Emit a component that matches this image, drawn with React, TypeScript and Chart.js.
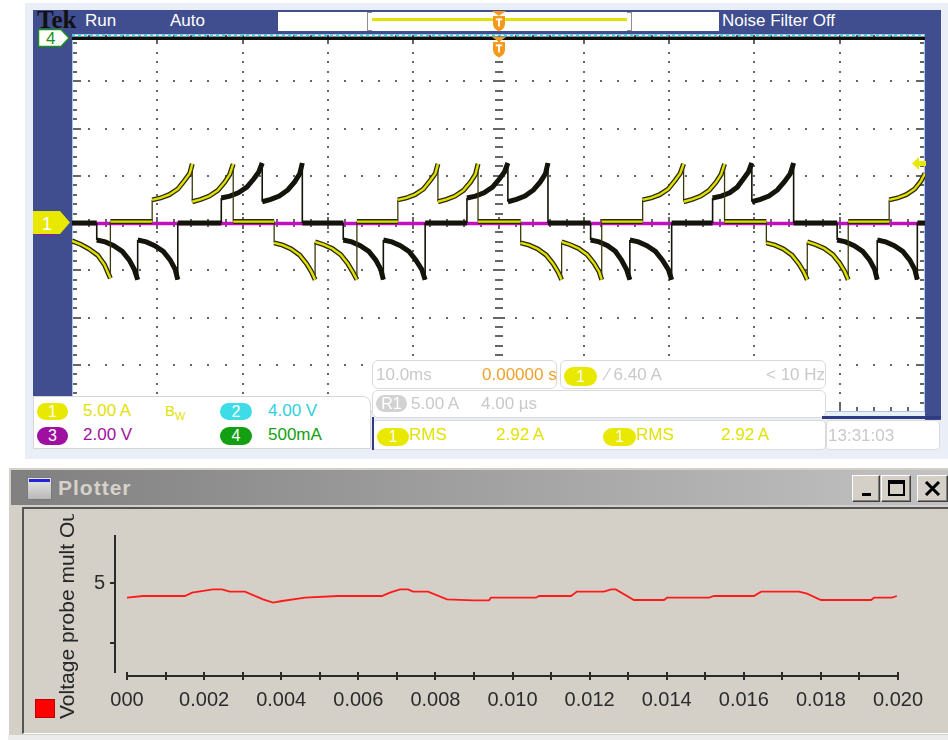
import React, { useEffect, useRef } from "react";
import { Chart, registerables } from "chart.js";

Chart.register(...registerables);

const FONT = "'Liberation Sans', Arial, Helvetica, sans-serif";
const BLUE = "#404D8F";

// ---------------- Oscilloscope data ----------------
// time in ms (10.0 ms/div, trigger at 0), levels in screen divisions (-4..4)
const scopeTimeMin = -50;
const scopeTimeMax = 50;
const scopeLevelMin = -4;
const scopeLevelMax = 4;

// Channel 1 (yellow)
const ch1Time = [
  -50, -49, -48, -47, -46.2, -45.5, -45.5, -40.6,
  -40.6, -39.6, -38.6, -37.6, -36.8, -36.2, -35.9,
  -35.9, -34.9, -33.9, -32.9, -32.1, -31.5, -31.1,
  -31.1, -26.3,
  -26.3, -25.3, -24.3, -23.3, -22.5, -21.9, -21.5,
  -21.5, -20.5, -19.5, -18.5, -17.7, -17.1, -16.6,
  -16.6, -11.8,
  -11.8, -10.8, -9.8, -8.8, -8.0, -7.4, -7.1,
  -7.1, -6.1, -5.1, -4.1, -3.3, -2.7, -2.4,
  -2.4, 2.6,
  2.6, 3.6, 4.6, 5.6, 6.4, 7.0, 7.4,
  7.4, 8.4, 9.4, 10.4, 11.2, 11.8, 12.1,
  12.1, 16.9,
  16.9, 17.9, 18.9, 19.9, 20.7, 21.3, 21.7,
  21.7, 22.7, 23.7, 24.7, 25.5, 26.1, 26.5,
  26.5, 31.4,
  31.4, 32.4, 33.4, 34.4, 35.2, 35.8, 36.2,
  36.2, 37.2, 38.2, 39.2, 40.0, 40.6, 41.0,
  41.0, 45.8,
  45.8, 46.8, 47.8, 48.8, 49.5, 50,
];
const ch1Level = [
  -0.38, -0.45, -0.55, -0.68, -0.88, -1.17, 0.03, 0.03,
  0.49, 0.53, 0.6, 0.72, 0.9, 1.05, 1.25,
  0.45, 0.5, 0.57, 0.69, 0.86, 1.03, 1.25,
  0.03, 0.03,
  -0.42, -0.47, -0.55, -0.68, -0.86, -1.04, -1.2,
  -0.4, -0.46, -0.54, -0.67, -0.85, -1.03, -1.2,
  0.03, 0.03,
  0.49, 0.53, 0.6, 0.72, 0.9, 1.05, 1.25,
  0.45, 0.5, 0.57, 0.69, 0.86, 1.03, 1.25,
  0.03, 0.03,
  -0.42, -0.47, -0.55, -0.68, -0.86, -1.04, -1.2,
  -0.4, -0.46, -0.54, -0.67, -0.85, -1.03, -1.2,
  0.03, 0.03,
  0.49, 0.53, 0.6, 0.72, 0.9, 1.05, 1.25,
  0.45, 0.5, 0.57, 0.69, 0.86, 1.03, 1.25,
  0.03, 0.03,
  -0.42, -0.47, -0.55, -0.68, -0.86, -1.04, -1.2,
  -0.4, -0.46, -0.54, -0.67, -0.85, -1.03, -1.2,
  0.03, 0.03,
  0.49, 0.53, 0.6, 0.72, 0.88, 1.05,
];

// Dark trace
const darkTime = [
  -50, -47.1,
  -47.1, -46.1, -45.1, -44.1, -43.3, -42.7, -42.3,
  -42.3, -41.3, -40.3, -39.3, -38.5, -37.9, -37.6,
  -37.6, -32.5,
  -32.5, -31.5, -30.5, -29.5, -28.7, -28.1, -27.7,
  -27.7, -26.7, -25.7, -24.7, -23.9, -23.3, -23.0,
  -23.0, -18.2,
  -18.2, -17.2, -16.2, -15.2, -14.4, -13.8, -13.5,
  -13.5, -12.5, -11.5, -10.5, -9.7, -9.0, -8.6,
  -8.6, -3.7,
  -3.7, -2.7, -1.7, -0.7, 0.1, 0.7, 1.1,
  1.1, 2.1, 3.1, 4.1, 4.9, 5.5, 5.8,
  5.8, 10.8,
  10.8, 11.8, 12.8, 13.7, 14.4, 15.0, 15.4,
  15.4, 16.4, 17.4, 18.4, 19.2, 19.9, 20.3,
  20.3, 25.1,
  25.1, 26.1, 27.1, 28.0, 28.7, 29.3, 29.7,
  29.7, 30.7, 31.7, 32.7, 33.5, 34.2, 34.6,
  34.6, 39.7,
  39.7, 40.7, 41.7, 42.7, 43.5, 44.1, 44.4,
  44.4, 45.4, 46.4, 47.4, 48.2, 48.8, 49.1,
  49.1, 50,
];
const darkLevel = [
  0, 0,
  -0.36, -0.4, -0.48, -0.6, -0.78, -0.98, -1.2,
  -0.36, -0.4, -0.48, -0.6, -0.78, -0.98, -1.2,
  0, 0,
  0.53, 0.57, 0.64, 0.76, 0.93, 1.08, 1.27,
  0.45, 0.5, 0.57, 0.7, 0.87, 1.04, 1.27,
  0, 0,
  -0.36, -0.4, -0.48, -0.6, -0.78, -0.98, -1.2,
  -0.36, -0.4, -0.48, -0.6, -0.78, -0.98, -1.2,
  0, 0,
  0.53, 0.57, 0.64, 0.76, 0.93, 1.08, 1.27,
  0.45, 0.5, 0.57, 0.7, 0.87, 1.04, 1.27,
  0, 0,
  -0.36, -0.4, -0.48, -0.6, -0.78, -0.98, -1.2,
  -0.36, -0.4, -0.48, -0.6, -0.78, -0.98, -1.2,
  0, 0,
  0.53, 0.57, 0.64, 0.76, 0.93, 1.08, 1.27,
  0.45, 0.5, 0.57, 0.7, 0.87, 1.04, 1.27,
  0, 0,
  -0.36, -0.4, -0.48, -0.6, -0.78, -0.98, -1.2,
  -0.36, -0.4, -0.48, -0.6, -0.78, -0.98, -1.2,
  0, 0,
];

// Channel 3 (magenta) and channel 4 / channel 2 near the top
const ch3Time = [-50, 50];
const ch3Level = [-0.01, -0.01];
const ch4Time = [-50, 50];
const ch4Level = [3.91, 3.91];
const ch2Time = [-50, 50];
const ch2Level = [3.97, 3.97];

// ---------------- Plotter data ----------------
const plotTime = [
  0, 0.00042, 0.0015, 0.00169, 0.00223, 0.00246, 0.00267, 0.00306, 0.00353,
  0.00379, 0.00402, 0.00462, 0.00547, 0.00661, 0.00682, 0.00708, 0.00729,
  0.00742, 0.00781, 0.0083, 0.00898, 0.00939, 0.00944, 0.01061, 0.01069,
  0.01152, 0.01167, 0.01237, 0.01256, 0.01268, 0.01315, 0.01393, 0.01401,
  0.0151, 0.01523, 0.01626, 0.01645, 0.01743, 0.01764, 0.018, 0.0193,
  0.01938, 0.01984, 0.01997,
];
const plotVoltage = [
  4.755, 4.783, 4.783, 4.839, 4.894, 4.894, 4.856, 4.856, 4.728,
  4.672, 4.7, 4.755, 4.783, 4.783, 4.839, 4.894, 4.894,
  4.856, 4.856, 4.728, 4.711, 4.711, 4.755, 4.755, 4.783,
  4.783, 4.856, 4.856, 4.894, 4.894, 4.717, 4.717, 4.755,
  4.755, 4.783, 4.783, 4.856, 4.856, 4.822, 4.717, 4.717,
  4.755, 4.755, 4.783,
];
const plotTimeMin = 0;
const plotTimeMax = 0.02;
const plotTimeStep = 0.001;
const plotVoltMin = 3.5;
const plotVoltMax = 5.8;
const plotVoltTicks = [4, 5];
const plotVoltLabels = [5];

const pts = (t: number[], v: number[]) => t.map((x, i) => ({ x, y: v[i] }));

const scopeGrid = {
  id: "scopeGrid",
  beforeDatasetsDraw(chart: any) {
    const { ctx, chartArea: a, scales } = chart;
    const x = scales.x;
    const y = scales.y;
    ctx.save();
    ctx.fillStyle = "#666";
    for (let d = 1; d < 10; d++) {
      const t = scopeTimeMin + d * 10;
      const px = Math.round(x.getPixelForValue(t));
      for (let k = 1; k < 40; k++) {
        const lv = scopeLevelMin + k * 0.2;
        const py = Math.round(y.getPixelForValue(lv));
        if (t === 0) {
          const major = k % 5 === 0;
          ctx.fillRect(px - (major ? 6 : 4), py - 1, major ? 12 : 8, 2);
        } else {
          ctx.fillRect(px - 1, py - 1, 2, 2);
        }
      }
    }
    for (let d = 1; d < 8; d++) {
      const lv = scopeLevelMin + d;
      const py = Math.round(y.getPixelForValue(lv));
      for (let k = 1; k < 50; k++) {
        const t = scopeTimeMin + k * 2;
        const px = Math.round(x.getPixelForValue(t));
        if (lv === 0) {
          const major = k % 5 === 0;
          ctx.fillRect(px - 1, py - (major ? 6 : 4), 2, major ? 12 : 8);
        } else {
          ctx.fillRect(px - 1, py - 1, 2, 2);
        }
      }
    }
    for (let k = 1; k < 40; k++) {
      const py = Math.round(y.getPixelForValue(scopeLevelMin + k * 0.2));
      const len = k % 5 === 0 ? 8 : 4;
      ctx.fillRect(a.left + 1, py - 1, len, 2);
      ctx.fillRect(a.right - 1 - len, py - 1, len, 2);
    }
    for (let k = 1; k < 50; k++) {
      const px = Math.round(x.getPixelForValue(scopeTimeMin + k * 2));
      const len = k % 5 === 0 ? 8 : 4;
      ctx.fillRect(px - 1, a.bottom - 1 - len, 2, len);
      ctx.fillRect(px - 1, a.top + 1, 2, len);
    }
    ctx.strokeStyle = "#A9C6EC";
    ctx.lineWidth = 1;
    ctx.strokeRect(a.left + 0.5, a.top + 0.5, a.right - a.left - 1, a.bottom - a.top - 1);
    ctx.restore();
  },
};

// vertical (same-time) steps of a trace are drawn thin, like the scope's fast edges
const isStep = (c: any) => c.p0.parsed.x === c.p1.parsed.x;

function ScopeChart() {
  const ref = useRef<HTMLCanvasElement>(null);
  useEffect(() => {
    const line = (
      data: any,
      color: string,
      width: number,
      order: number,
      stepWidth: number,
      stepColor: string,
      dash?: number[]
    ) => ({
      data,
      borderColor: color,
      borderWidth: width,
      borderDash: dash || [],
      pointRadius: 0,
      tension: 0,
      fill: false,
      order,
      segment: {
        borderWidth: (c: any) => (isStep(c) ? stepWidth : width),
        borderColor: (c: any) => (isStep(c) ? stepColor : color),
      },
    });
    const chart = new Chart(ref.current!, {
      type: "line",
      data: {
        datasets: [
          line(pts(ch2Time, ch2Level), "#35D0DA", 2, 0, 2, "#35D0DA", [3, 3]),
          line(pts(ch4Time, ch4Level), "#101010", 3.5, 1, 3.5, "#101010"),
          line(pts(ch1Time, ch1Level), "#E0E000", 2.4, 2, 0.01, "#3A3A08"),
          line(pts(ch1Time, ch1Level), "#2A2A06", 5, 3, 1.3, "#3A3A10"),
          line(pts(darkTime, darkLevel), "#14140A", 5, 4, 1.6, "#14140A"),
          line(pts(ch3Time, ch3Level), "#C010C0", 3.4, 5, 3.4, "#C010C0"),
        ] as any,
      },
      options: {
        responsive: false,
        animation: false,
        events: [],
        layout: { padding: 0 },
        plugins: { legend: { display: false }, tooltip: { enabled: false } },
        scales: {
          x: { type: "linear", min: scopeTimeMin, max: scopeTimeMax, display: false },
          y: { type: "linear", min: scopeLevelMin, max: scopeLevelMax, display: false },
        },
      } as any,
      plugins: [scopeGrid],
    });
    return () => chart.destroy();
  }, []);
  return (
    <canvas
      ref={ref}
      width={853}
      height={378}
      style={{ position: "absolute", left: 72, top: 34, width: 853, height: 378, background: "#fff" }}
    />
  );
}

const plotAxes = {
  id: "plotAxes",
  afterDraw(chart: any) {
    const { ctx, chartArea: a, scales } = chart;
    const x = scales.x;
    const y = scales.y;
    ctx.save();
    ctx.strokeStyle = "#2a2a2a";
    ctx.lineWidth = 2;
    const ax = Math.round(a.left - 12);
    ctx.beginPath();
    ctx.moveTo(ax, a.top);
    ctx.lineTo(ax, a.bottom);
    y.ticks.forEach((t: any) => {
      const py = Math.round(y.getPixelForValue(t.value));
      ctx.moveTo(ax - 5, py);
      ctx.lineTo(ax, py);
    });
    const ay = Math.round(a.bottom + 3);
    ctx.moveTo(x.getPixelForValue(x.min), ay);
    ctx.lineTo(x.getPixelForValue(x.max), ay);
    x.ticks.forEach((t: any) => {
      const px = Math.round(x.getPixelForValue(t.value));
      ctx.moveTo(px, ay - 4);
      ctx.lineTo(px, ay + 4);
    });
    ctx.stroke();
    ctx.restore();
  },
};

function PlotterChart() {
  const ref = useRef<HTMLCanvasElement>(null);
  useEffect(() => {
    const chart = new Chart(ref.current!, {
      type: "line",
      data: {
        datasets: [
          {
            label: "Voltage probe mult Output",
            data: pts(plotTime, plotVoltage),
            borderColor: "#FF1A1A",
            borderWidth: 1.8,
            pointRadius: 0,
            tension: 0,
            fill: false,
          },
        ] as any,
      },
      options: {
        responsive: false,
        animation: false,
        events: [],
        layout: { padding: { top: 27, right: 48, left: 0, bottom: 0 } },
        plugins: { legend: { display: false }, tooltip: { enabled: false } },
        scales: {
          x: {
            type: "linear",
            min: plotTimeMin,
            max: plotTimeMax,
            bounds: "data",
            grid: { display: false, drawTicks: false },
            border: { display: false },
            ticks: {
              stepSize: plotTimeStep,
              autoSkip: false,
              maxRotation: 0,
              minRotation: 0,
              padding: 15,
              color: "#2b2b2b",
              font: { family: FONT, size: 20 },
              callback: (v: any, i: number) =>
                i % 2 === 0 ? (i === 0 ? "000" : Number(v).toFixed(3)) : "",
            },
            afterFit: (s: any) => {
              s.height = 60;
              s.paddingLeft = 0;
              s.paddingRight = 0;
            },
          },
          y: {
            type: "linear",
            min: plotVoltMin,
            max: plotVoltMax,
            bounds: "data",
            grid: { display: false, drawTicks: false },
            border: { display: false },
            ticks: {
              padding: 22,
              color: "#2b2b2b",
              font: { family: FONT, size: 20 },
              callback: (v: any) => (plotVoltLabels.includes(Number(v)) ? String(v) : ""),
            },
            afterBuildTicks: (s: any) => {
              s.ticks = plotVoltTicks.map((value) => ({ value }));
            },
            afterFit: (s: any) => {
              s.width = 105;
              s.paddingTop = 0;
              s.paddingBottom = 0;
            },
          },
        },
      } as any,
      plugins: [plotAxes],
    });
    return () => chart.destroy();
  }, []);
  return (
    <canvas
      ref={ref}
      width={924}
      height={225}
      style={{ position: "absolute", left: 22, top: 508, width: 924, height: 225 }}
    />
  );
}

const S = (l: number, t: number, w: number, h: number, extra: React.CSSProperties = {}): React.CSSProperties => ({
  position: "absolute",
  left: l,
  top: t,
  width: w,
  height: h,
  boxSizing: "border-box",
  ...extra,
});

function T(props: { l: number; t: number; c: string; s?: number; children: any; extra?: React.CSSProperties }) {
  return (
    <div
      style={{
        position: "absolute",
        left: props.l,
        top: props.t,
        color: props.c,
        fontSize: props.s || 17,
        lineHeight: "20px",
        fontFamily: FONT,
        whiteSpace: "nowrap",
        ...(props.extra || {}),
      }}
    >
      {props.children}
    </div>
  );
}

function Pill(props: { l: number; t: number; w: number; h: number; bg: string; text: string }) {
  return (
    <div
      style={S(props.l, props.t, props.w, props.h, {
        background: props.bg,
        borderRadius: props.h / 2,
        color: "#fff",
        fontSize: 16,
        lineHeight: props.h + "px",
        textAlign: "center",
        fontFamily: FONT,
      })}
    >
      {props.text}
    </div>
  );
}

function TrigMarker({ l, t }: { l: number; t: number }) {
  return (
    <svg style={{ position: "absolute", left: l, top: t }} width={14} height={21}>
      <path d="M0 0 H14 L7 5 Z" fill="#F39A1E" />
      <path d="M1 5 H13 V13 Q13 17.5 7 20.5 Q1 17.5 1 13 Z" fill="#F39A1E" />
      <rect x={3.8} y={7.5} width={6.4} height={1.8} fill="#fff" />
      <rect x={6.1} y={7.5} width={1.8} height={8} fill="#fff" />
    </svg>
  );
}

function WinButton({ l, w, children }: { l: number; w: number; children: any }) {
  return (
    <div
      style={S(l, 475, w, 27, {
        background: "#D4D0C8",
        borderTop: "1px solid #fff",
        borderLeft: "1px solid #fff",
        borderRight: "1px solid #404040",
        borderBottom: "1px solid #404040",
        boxShadow: "inset -1px -1px 0 #808080",
      })}
    >
      {children}
    </div>
  );
}

export default function App() {
  const light = "#C9C9C9";
  const yel = "#E2E200";
  return (
    <div
      style={{
        position: "absolute",
        left: 0,
        top: 0,
        width: 948,
        height: 740,
        overflow: "hidden",
        background: "#fff",
        fontFamily: FONT,
      }}
    >
      {/* ---------- Oscilloscope ---------- */}
      <div style={S(25, 3, 923, 456, { background: "#E9EEF7" })} />
      <div style={S(33, 10, 908, 25, { background: BLUE })} />
      <div style={S(33, 10, 39, 386, { background: BLUE })} />
      <div style={S(925, 10, 16, 410, { background: BLUE })} />
      <ScopeChart />

      {/* header */}
      <div
        style={{
          position: "absolute",
          left: 37,
          top: 6,
          fontFamily: "'Liberation Serif', 'DejaVu Serif', serif",
          fontWeight: "bold",
          fontSize: 25,
          lineHeight: "28px",
          color: "#111",
        }}
      >
        Tek
      </div>
      <T l={85} t={11} c="#fff">Run</T>
      <T l={170} t={11} c="#fff">Auto</T>
      <div style={S(278, 12, 90, 19, { background: "#fff" })} />
      <div style={S(368, 12, 264, 19, { background: "#fff" })} />
      <div style={S(367, 12, 5, 19, { borderLeft: "1.5px solid #9C8C84", borderTop: "1.5px solid #9C8C84", borderBottom: "1.5px solid #9C8C84" })} />
      <div style={S(627, 12, 5, 19, { borderRight: "1.5px solid #9C8C84", borderTop: "1.5px solid #9C8C84", borderBottom: "1.5px solid #9C8C84" })} />
      <div style={S(372, 18, 255, 3, { background: yel })} />
      <div style={S(632, 12, 87, 19, { background: "#fff" })} />
      <T l={722} t={11} c="#fff">Noise Filter Off</T>
      <TrigMarker l={492} t={11} />
      <TrigMarker l={492} t={37} />

      {/* channel markers */}
      <svg style={{ position: "absolute", left: 37, top: 28 }} width={34} height={20}>
        <path d="M1.5 1.5 H24 L32 10 L24 18.5 H1.5 Z" fill="#fff" stroke="#1E8E1E" strokeWidth={1.5} />
        <text x={9} y={16} fill="#1E8E1E" fontSize={17} fontFamily={FONT}>4</text>
      </svg>
      <div style={S(38, 232, 17, 3, { background: "#B000B0" })} />
      <svg style={{ position: "absolute", left: 33, top: 211 }} width={38} height={23}>
        <path d="M0 0 H27 L37 11.5 L27 23 H0 Z" fill="#E8E800" />
        <text x={9} y={18.5} fill="#fff" fontSize={18} fontFamily={FONT}>1</text>
      </svg>
      <svg style={{ position: "absolute", left: 912, top: 157 }} width={14} height={13}>
        <path d="M0 6.5 L7 0 V4 H14 V9 H7 V13 Z" fill="#E8E800" />
      </svg>

      {/* readout boxes */}
      <div style={S(33, 396, 338, 53, { background: "#fff", border: "1px solid #D6D6D6", borderTopRightRadius: 8 })} />
      <Pill l={37} t={403} w={31} h={17} bg="#E8E800" text="1" />
      <T l={83} t={401} c={yel}>5.00 A</T>
      <T l={165} t={401} c={yel} s={15}>
        B<span style={{ fontSize: 11, verticalAlign: "-4px" }}>W</span>
      </T>
      <Pill l={220} t={403} w={32} h={17} bg="#3EDCE6" text="2" />
      <T l={268} t={401} c="#2ED0DC">4.00 V</T>
      <Pill l={37} t={427} w={31} h={18} bg="#A010A0" text="3" />
      <T l={83} t={425} c="#A010A0">2.00 V</T>
      <Pill l={220} t={427} w={32} h={18} bg="#12A012" text="4" />
      <T l={268} t={425} c="#12A012">500mA</T>

      <div style={S(372, 360, 185, 29, { background: "#fff", border: "1px solid #DADADA", borderRadius: 6 })} />
      <T l={376} t={365} c={light}>10.0ms</T>
      <T l={482} t={365} c="#F0A028">0.00000 s</T>
      <div style={S(560, 360, 266, 29, { background: "#fff", border: "1px solid #DADADA", borderRadius: 6 })} />
      <Pill l={564} t={367} w={33} h={19} bg="#E8E800" text="1" />
      <T l={606} t={365} c={light}>⁄ 6.40 A</T>
      <T l={766} t={365} c={light}>&lt; 10 Hz</T>
      <div style={S(372, 390, 454, 28, { background: "#fff", border: "1px solid #DADADA", borderRadius: 6 })} />
      <Pill l={376} t={395} w={31} h={17} bg="#D2D2D2" text="R1" />
      <T l={411} t={394} c={light}>5.00 A</T>
      <T l={481} t={394} c={light}>4.00 µs</T>
      <div style={S(372, 420, 454, 30, { background: "#fff", border: "1px solid #DADADA", borderRadius: 4 })} />
      <Pill l={377} t={428} w={32} h={18} bg="#E8E800" text="1" />
      <T l={409} t={425} c={yel}>RMS</T>
      <T l={496} t={425} c={yel}>2.92 A</T>
      <Pill l={603} t={428} w={33} h={18} bg="#E8E800" text="1" />
      <T l={636} t={425} c={yel}>RMS</T>
      <T l={721} t={425} c={yel}>2.92 A</T>
      <div style={S(826, 420, 114, 30, { background: "#fff", border: "1px solid #DADADA", borderRadius: 4 })} />
      <T l={828} t={426} c={light}>13:31:03</T>
      <div style={S(372, 417, 2, 33, { background: "#2E3B82" })} />
      <div style={S(822, 416, 119, 3, { background: "#2E3B82" })} />

      {/* ---------- Plotter window ---------- */}
      <div style={S(8, 467, 940, 273, { background: "#D4D0C8", borderLeft: "1px solid #fff", borderTop: "1px solid #fff" })} />
      <div style={S(11, 470, 937, 35, { background: "linear-gradient(to right, #808080, #C2C2C2)" })} />
      <div style={S(27, 477, 25, 23, { background: "linear-gradient(#E8E8E8, #B8B8B8)", border: "1px solid #7A7A7A" })}>
        <div style={S(1, 1, 21, 3, { background: "#2424D8" })} />
      </div>
      <div
        style={{
          position: "absolute",
          left: 58,
          top: 475,
          fontFamily: FONT,
          fontWeight: "bold",
          fontSize: 21,
          letterSpacing: 1,
          lineHeight: "26px",
          color: "#D6D2CA",
        }}
      >
        Plotter
      </div>
      <WinButton l={852} w={28}>
        <div style={S(9, 17, 9, 3, { background: "#000" })} />
      </WinButton>
      <WinButton l={881} w={30}>
        <div style={S(6, 4, 17, 16, { border: "2px solid #000", borderTop: "4px solid #000" })} />
      </WinButton>
      <WinButton l={917} w={31}>
        <svg style={{ position: "absolute", left: 6, top: 5 }} width={17} height={15}>
          <path d="M2 1 L15 14 M15 1 L2 14" stroke="#000" strokeWidth={3} />
        </svg>
      </WinButton>
      <div
        style={S(22, 507, 926, 227, {
          background: "#D4D0C8",
          borderTop: "2px solid #555",
          borderLeft: "2px solid #555",
          borderBottom: "1px solid #fff",
        })}
      />
      <div style={S(8, 735, 940, 5, { background: "#ECECEC" })} />
      <PlotterChart />
      <div style={S(40, 514, 50, 211, { overflow: "hidden" })}>
        <div
          style={{
            position: "absolute",
            left: 15,
            top: 205,
            width: 320,
            height: 23,
            transform: "rotate(-90deg)",
            transformOrigin: "left top",
            fontFamily: FONT,
            fontSize: 21,
            lineHeight: "23px",
            color: "#262626",
            whiteSpace: "nowrap",
          }}
        >
          Voltage probe mult Output
        </div>
      </div>
      <div style={S(35, 699, 20, 19, { background: "#FF0000", border: "1px solid #C00000" })} />
    </div>
  );
}
